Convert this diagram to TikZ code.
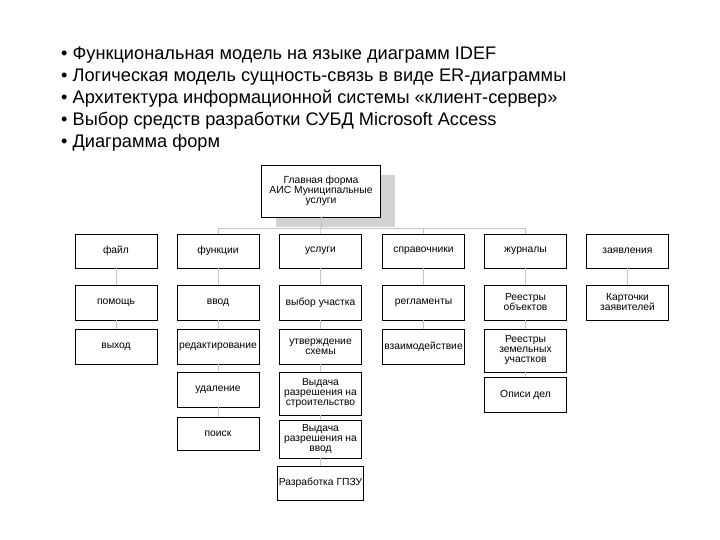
\documentclass[tikz,border=0pt]{standalone}
\usepackage{fontspec}
\setmainfont{Liberation Sans}
\usetikzlibrary{shadows}
\tikzset{
  box/.style={draw, line width=0.8pt, fill=white, minimum width=82pt, minimum height=#1,
    inner sep=1pt, align=center, font=\fontsize{10.3}{10}\selectfont},
  box/.default=35pt,
  link/.style={draw=gray!45, line width=0.6pt},
}
\begin{document}
\begin{tikzpicture}[x=1pt, y=-1pt]
    \useasboundingbox (0,0) rectangle (720,540);

    % Bullet list
    \node[anchor=north west, align=left, inner sep=0, font=\fontsize{18.2}{22}\selectfont] (list) at (61,47)
      {• Функциональная модель на языке диаграмм IDEF\\
       • Логическая модель сущность-связь в виде ER-диаграммы\\
       • Архитектура информационной системы «клиент-сервер»\\
       • Выбор средств разработки СУБД Microsoft Access\\
       • Диаграмма форм};

    % Main form
    \node[box, minimum width=119pt, minimum height=52pt,
      general shadow={fill=gray!35, shadow xshift=14pt, shadow yshift=-10pt}] (main) at (321,191)
      {Главная форма\\АИС Муниципальные\\услуги};

    % Menu row
    \node[box=34pt] (fail)  at (116,251)   {файл};
    \node[box=34pt] (funk)  at (218,251)   {функции};
    \node[box=34pt] (usl)   at (320.5,251) {услуги};
    \node[box=34pt] (sprav) at (423.5,251) {справочники};
    \node[box=34pt] (zhur)  at (525.5,251) {журналы};
    \node[box=34pt] (zayav) at (627.5,251) {заявления};

    % Second row
    \node[box] (pomosh)   at (116,302.5)   {помощь};
    \node[box] (vvod)     at (218,302.5)   {ввод};
    \node[box] (vybor)    at (320.5,302.5) {выбор участка};
    \node[box] (reglam)   at (423.5,302.5) {регламенты};
    \node[box] (reestrob) at (525.5,302.5) {Реестры\\объектов};
    \node[box] (kartoch)  at (627.5,302.5) {Карточки\\заявителей};

    % Third row
    \node[box] (vyhod)     at (116,346.5)   {выход};
    \node[box] (redakt)    at (218,346.5)   {редактирование};
    \node[box] (utverzh)   at (320.5,346.5) {утверждение\\схемы};
    \node[box] (vzaim)     at (423.5,346.5) {взаимодействие};
    \node[box=43pt] (reestrzem) at (525.5,350.5) {Реестры\\земельных\\участков};

    % Lower rows
    \node[box] (udal)      at (218,389.5)   {удаление};
    \node[box=43pt] (vydstr)    at (320.5,393.5) {Выдача\\разрешения на\\строительство};
    \node[box] (opisi)     at (525.5,394.5) {Описи дел};
    \node[box=33pt] (poisk)     at (218,433.5)   {поиск};
    \node[box=38pt] (vydvvod)   at (320.5,439)   {Выдача\\разрешения на\\ввод};
    \node[box=34pt] (gpzu)      at (320.5,483)   {Разработка ГПЗУ};

    % Links from main form
    \draw[link] (main.south) -- (usl.north);
    \draw[link] (main.south) -- ++(0,11) -| (funk.north);
    \draw[link] (main.south) -- ++(0,11) -| (sprav.north);
    \draw[link] (main.south) -- ++(0,11) -| (zhur.north);

    % Links inside columns
    \draw[link] (fail) -- (pomosh) -- (vyhod);
    \draw[link] (funk) -- (vvod) -- (redakt) -- (udal) -- (poisk);
    \draw[link] (usl) -- (vybor) -- (utverzh) -- (vydstr) -- (vydvvod) -- (gpzu);
    \draw[link] (sprav) -- (reglam) -- (vzaim);
    \draw[link] (zhur) -- (reestrob) -- (reestrzem) -- (opisi);
    \draw[link] (zayav) -- (kartoch);
\end{tikzpicture}
\end{document}
